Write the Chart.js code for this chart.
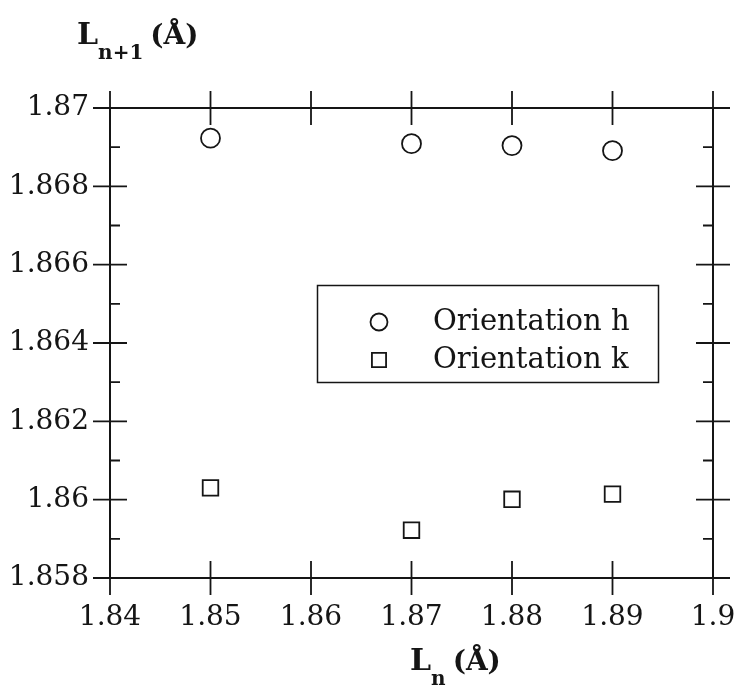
<!DOCTYPE html>
<html>
<head>
<meta charset="utf-8">
<script src="https://cdn.jsdelivr.net/npm/chart.js@4.4.0/dist/chart.umd.min.js"></script>
<style>
  html, body { margin: 0; padding: 0; background: #fff; }
  canvas { display: block; }
</style>
</head>
<body>
<canvas id="chart" width="743" height="687"></canvas>
<script>
const xValues = [1.85, 1.87, 1.88, 1.89];
const orientationH = [1.86923, 1.86909, 1.86904, 1.86891];
const orientationK = [1.86030, 1.85922, 1.86001, 1.86014];
const seriesLabels = ['Orientation h', 'Orientation k'];
const xTicks = [1.84, 1.85, 1.86, 1.87, 1.88, 1.89, 1.9];
const xTickLabels = ['1.84', '1.85', '1.86', '1.87', '1.88', '1.89', '1.9'];
const yTicks = [1.858, 1.86, 1.862, 1.864, 1.866, 1.868, 1.87];
const yTickLabels = ['1.858', '1.86', '1.862', '1.864', '1.866', '1.868', '1.87'];
const yMinorTicks = [1.859, 1.861, 1.863, 1.865, 1.867, 1.869];

const INK = '#151515';
const SERIF = '"DejaVu Serif", serif';

const toPoints = ys => xValues.map((x, i) => ({ x, y: ys[i] }));

// frame, crossing ticks, axis titles, boxed legend
const framePlugin = {
  id: 'frame',
  afterDraw(chart) {
    const { ctx, chartArea: a, scales: { x, y } } = chart;
    ctx.save();
    ctx.strokeStyle = INK;
    ctx.lineWidth = 2;
    ctx.strokeRect(a.left, a.top, a.right - a.left, a.bottom - a.top);

    ctx.lineWidth = 1.8;
    ctx.beginPath();
    xTicks.forEach(v => {
      const px = x.getPixelForValue(v);
      ctx.moveTo(px, a.bottom - 17); ctx.lineTo(px, a.bottom + 17);
      ctx.moveTo(px, a.top - 17);    ctx.lineTo(px, a.top + 17);
    });
    yTicks.forEach(v => {
      const py = y.getPixelForValue(v);
      ctx.moveTo(a.left - 17, py);  ctx.lineTo(a.left + 17, py);
      ctx.moveTo(a.right - 17, py); ctx.lineTo(a.right + 17, py);
    });
    yMinorTicks.forEach(v => {
      const py = y.getPixelForValue(v);
      ctx.moveTo(a.left, py);  ctx.lineTo(a.left + 10, py);
      ctx.moveTo(a.right, py); ctx.lineTo(a.right - 10, py);
    });
    ctx.stroke();

    // axis titles
    ctx.fillStyle = INK;
    ctx.textBaseline = 'alphabetic';
    ctx.textAlign = 'left';
    const title = (x0, base, sub) => {
      ctx.font = 'bold 30px ' + SERIF;
      ctx.fillText('L', x0, base);
      let cx = x0 + ctx.measureText('L').width;
      ctx.font = 'bold 20px ' + SERIF;
      ctx.fillText(sub, cx, base + 15);
      cx += ctx.measureText(sub).width + 7;
      ctx.font = 'bold 28px ' + SERIF;
      ctx.fillText('(Å)', cx, base);
    };
    title(77, 44, 'n+1');
    title(410, 670, 'n');

    // legend
    const lx = 317, ly = 285, lw = 341, lh = 97;
    ctx.lineWidth = 1.5;
    ctx.strokeRect(lx + 0.5, ly + 0.5, lw, lh);
    chart.data.datasets.forEach((ds, i) => {
      const cy = ly + 37 + i * 38;
      ctx.fillStyle = '#fff';
      ctx.lineWidth = 1.8;
      Chart.helpers.drawPoint(ctx, {
        pointStyle: ds.pointStyle, radius: i === 0 ? 8.5 : 10,
        rotation: 0, borderWidth: 1.8
      }, lx + 62, cy);
      ctx.fillStyle = INK;
      ctx.font = '29px ' + SERIF;
      ctx.fillText(ds.label, lx + 116, cy + 8);
    });
    ctx.restore();
  }
};

new Chart(document.getElementById('chart').getContext('2d'), {
  type: 'scatter',
  data: {
    datasets: [
      { label: seriesLabels[0], data: toPoints(orientationH), pointStyle: 'circle',
        pointRadius: 9.5, borderColor: INK, backgroundColor: 'rgba(0,0,0,0)', borderWidth: 1.8 },
      { label: seriesLabels[1], data: toPoints(orientationK), pointStyle: 'rect',
        pointRadius: 11, borderColor: INK, backgroundColor: 'rgba(0,0,0,0)', borderWidth: 1.8 }
    ]
  },
  options: {
    responsive: false,
    animation: false,
    layout: { padding: { top: 108, right: 30, bottom: 0, left: 0 } },
    scales: {
      x: {
        type: 'linear', min: 1.84, max: 1.9,
        afterBuildTicks: s => { s.ticks = xTicks.map(v => ({ value: v })); },
        afterFit: s => { s.height = 109; s.paddingLeft = 0; s.paddingRight = 0; },
        grid: { display: false, drawTicks: false },
        border: { display: false },
        ticks: {
          padding: 23, color: INK, font: { family: SERIF, size: 28 },
          maxRotation: 0, autoSkip: false,
          callback: (v, i) => xTickLabels[i]
        }
      },
      y: {
        type: 'linear', min: 1.858, max: 1.87,
        afterBuildTicks: s => { s.ticks = yTicks.map(v => ({ value: v })); },
        afterFit: s => { s.width = 110; s.paddingTop = 0; s.paddingBottom = 0; },
        grid: { display: false, drawTicks: false },
        border: { display: false },
        ticks: {
          padding: 21, color: INK, font: { family: SERIF, size: 28 },
          autoSkip: false,
          callback: (v, i) => yTickLabels[i]
        }
      }
    },
    plugins: { legend: { display: false }, tooltip: { enabled: false } }
  },
  plugins: [framePlugin]
});
</script>
</body>
</html>
